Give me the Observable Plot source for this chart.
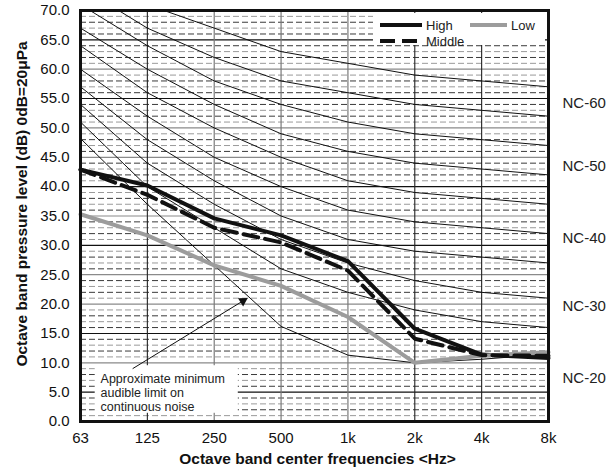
<!DOCTYPE html>
<html>
<head>
<meta charset="utf-8">
<script src="https://cdn.jsdelivr.net/npm/d3@7"></script>
<script src="https://cdn.jsdelivr.net/npm/@observablehq/plot@0.6"></script>
<style>
  body { margin: 0; background: #fff; }
  #chart svg { display: block; }
</style>
</head>
<body>
<div id="chart"></div>
<script>
// ---------- data ----------
const freqLabels = ["63", "125", "250", "500", "1k", "2k", "4k", "8k"];
const yTickValues = [0, 5, 10, 15, 20, 25, 30, 35, 40, 45, 50, 55, 60, 65, 70];

const high   = [42.9, 40.2, 34.6, 31.7, 27.3, 15.8, 11.4, 10.8];
const middle = [42.9, 38.6, 33.0, 30.5, 25.7, 14.1, 11.3, 11.2];
const low    = [35.3, 31.7, 26.6, 23.1, 17.8, 10.0, 11.2, 11.8];
const minAudible = [48.2, 37.0, 26.6, 16.2, 11.3, 10.0, 10.6, 11.5];

const nc20 = [51, 40, 33, 26, 22, 19, 17, 16];
const nc25 = [54, 44, 37, 31, 27, 24, 22, 21];
const nc30 = [57, 48, 41, 35, 31, 29, 28, 27];
const nc35 = [60, 52, 45, 40, 36, 34, 33, 32];
const nc40 = [64, 56, 50, 45, 41, 39, 38, 37];
const nc45 = [67, 60, 54, 49, 46, 44, 43, 42];
const nc50 = [71, 64, 58, 54, 51, 49, 48, 47];
const nc55 = [74, 67, 62, 58, 56, 54, 53, 52];
const nc60 = [77, 71, 67, 63, 61, 59, 58, 57];

const ncLabelText  = ["NC-60", "NC-50", "NC-40", "NC-30", "NC-20"];
const ncLabelLevel = [54.2, 43.4, 31.3, 19.6, 7.3];

const legendLabels = ["High", "Middle", "Low"];
const annotationText = "Approximate minimum\naudible limit on\ncontinuous noise";
const xTitle = "Octave band center frequencies <Hz>";
const yTitle = "Octave band pressure level (dB) 0dB=20\u03bcPa";

// ---------- derived tables ----------
const toRows = (name, arr) => arr.map((v, i) => ({name, i, v}));
const ncRows = [
  ...toRows("NC-20", nc20), ...toRows("NC-25", nc25), ...toRows("NC-30", nc30),
  ...toRows("NC-35", nc35), ...toRows("NC-40", nc40), ...toRows("NC-45", nc45),
  ...toRows("NC-50", nc50), ...toRows("NC-55", nc55), ...toRows("NC-60", nc60)
];
const minorLevels = d3.range(1, 70).filter(d => d % 5 !== 0);
const majorLevels = d3.range(5, 70, 5);
const majorDark = [5, 15, 30, 40, 55, 65];
const vDark = [1, 5, 6];
const vGray = [2, 3, 4];

// annotation geometry (data units)
const annBox = [{x1: 0.22, x2: 2.36, y1: 1.4, y2: 9.5}];
const arrowSeg = [{x1: 0.78, y1: 9.0, x2: 2.41, y2: 20.4}];
const arrowTip = [{x: 2.43, y: 20.55}];

const font = "'Liberation Sans', Arial, Helvetica, sans-serif";

const plot = Plot.plot({
  width: 610,
  height: 473,
  marginLeft: 80,
  marginRight: 62,
  marginTop: 10,
  marginBottom: 52,
  style: {fontFamily: font, background: "white", color: "#111"},
  x: {type: "linear", domain: [0, 7]},
  y: {type: "linear", domain: [0, 70]},
  marks: [
    // minor dashed grid
    Plot.ruleY(minorLevels.filter(d => d % 2 === 0), {stroke: "#3a3a3a", strokeWidth: 1, strokeDasharray: "6,3"}),
    Plot.ruleY(minorLevels.filter(d => d % 2 === 1), {stroke: "#9a9a9a", strokeWidth: 1, strokeDasharray: "6,3"}),
    // major solid grid
    Plot.ruleY(majorLevels.filter(d => !majorDark.includes(d)), {stroke: "#8a8a8a", strokeWidth: 1.2}),
    Plot.ruleY(majorDark, {stroke: "#111", strokeWidth: 1.1}),
    // vertical grid
    Plot.ruleX(vGray, {stroke: "#7a7a7a", strokeWidth: 1.2}),
    Plot.ruleX(vDark, {stroke: "#222", strokeWidth: 1.1}),
    // annotation box
    Plot.rect(annBox, {x1: "x1", x2: "x2", y1: "y1", y2: "y2", fill: "white"}),
    // NC curves
    Plot.line(ncRows, {x: "i", y: "v", z: "name", stroke: "#111", strokeWidth: 1, clip: true}),
    // minimum audible limit
    Plot.line(minAudible, {x: (d, i) => i, y: d => d, stroke: "#111", strokeWidth: 1, clip: true}),
    // data series
    Plot.line(high, {x: (d, i) => i, y: d => d, stroke: "#111", strokeWidth: 4, strokeLinejoin: "miter"}),
    Plot.line(low, {x: (d, i) => i, y: d => d, stroke: "#9c9c9c", strokeWidth: 4}),
    Plot.line(middle, {x: (d, i) => i, y: d => d, stroke: "#111", strokeWidth: 4, strokeDasharray: "15,7"}),
    // annotation
    Plot.text([annotationText], {x: 0.3, y: 5.0, textAnchor: "start", lineAnchor: "middle", fontSize: 12.5, lineHeight: 1.12, fill: "#222"}),
    Plot.link(arrowSeg, {x1: "x1", y1: "y1", x2: "x2", y2: "y2", stroke: "#111", strokeWidth: 1}),
    Plot.dot(arrowTip, {x: "x", y: "y", symbol: "triangle", r: 3.6, fill: "#111", rotate: 58}),
    // NC labels
    Plot.text(ncLabelText, {x: 7, y: (d, i) => ncLabelLevel[i], dx: 14, textAnchor: "start", fontSize: 15, fill: "#222"}),
    // axes
    Plot.axisY({ticks: yTickValues, tickFormat: d => d.toFixed(1), tickSize: 0, tickPadding: 11, fontSize: 15, label: null}),
    Plot.axisX({ticks: d3.range(8), tickFormat: i => freqLabels[i], tickSize: 0, tickPadding: 11, fontSize: 15, label: null}),
    // titles
    Plot.text([xTitle], {frameAnchor: "bottom", dy: 38, dx: 3, textAnchor: "middle", lineAnchor: "middle", fontSize: 15.5, fontWeight: "bold", fill: "#111"}),
    Plot.text([yTitle], {frameAnchor: "left", dx: -58, dy: -12, rotate: -90, textAnchor: "middle", lineAnchor: "middle", fontSize: 15.5, fontWeight: "bold", fill: "#111"}),
    Plot.frame({stroke: "#111", strokeWidth: 3})
  ]
});

// ---------- legend (inside plot, top-right) ----------
const svg = d3.select(plot);
const g = svg.append("g").attr("font-family", font).attr("font-size", 13).attr("fill", "#222")
  .attr("text-anchor", "start");
g.append("rect").attr("x", 373).attr("y", 13).attr("width", 172).attr("height", 32).attr("fill", "white");
const legendItems = [
  {label: legendLabels[0], x: 380, y: 25, stroke: "#111", dash: null, len: 42},
  {label: legendLabels[1], x: 380, y: 41, stroke: "#111", dash: "15,7", len: 42},
  {label: legendLabels[2], x: 470, y: 25, stroke: "#9c9c9c", dash: null, len: 37}
];
for (const it of legendItems) {
  const ln = g.append("line").attr("x1", it.x).attr("x2", it.x + it.len).attr("y1", it.y).attr("y2", it.y)
    .attr("stroke", it.stroke).attr("stroke-width", 4);
  if (it.dash) ln.attr("stroke-dasharray", it.dash);
  g.append("text").attr("x", it.x + it.len + 4).attr("y", it.y).attr("dy", "0.35em")
    .attr("text-anchor", "start").text(it.label);
}

document.getElementById("chart").appendChild(plot);
</script>
</body>
</html>
